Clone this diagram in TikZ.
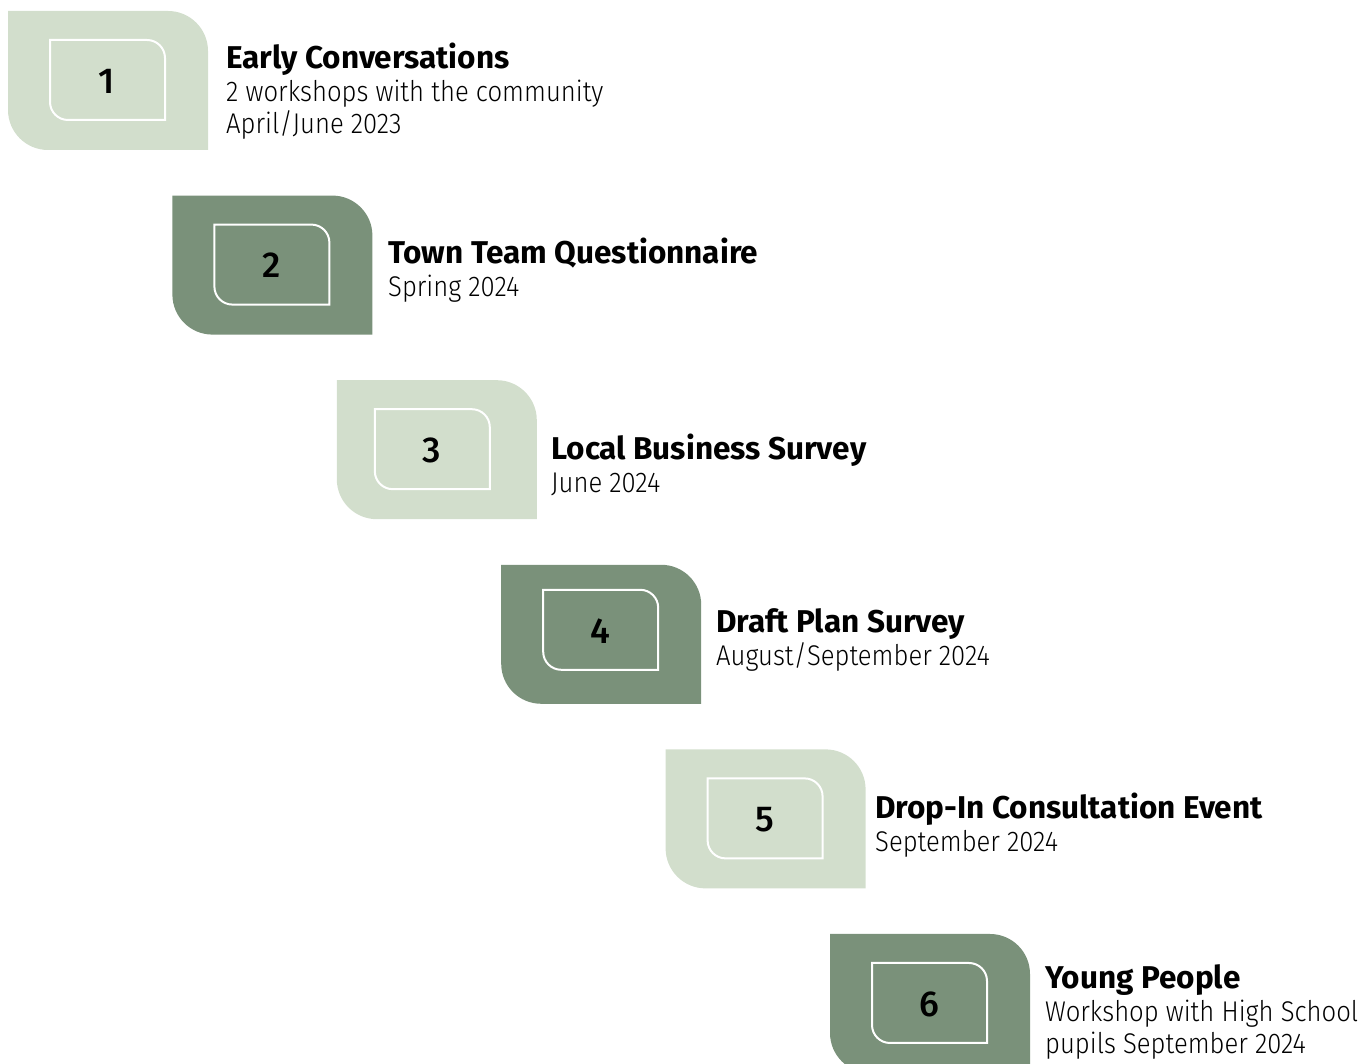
\documentclass[tikz,border=0pt]{standalone}
\usepackage{fontspec}
\setmainfont{Fira Sans}
\newfontfamily\lightfont{Fira Sans Light}[FakeStretch=0.9]
\newfontfamily\medfont{Fira Sans Medium}
\definecolor{lightg}{RGB}{210,222,204}
\definecolor{darkg}{RGB}{122,145,122}
\tikzset{
  titletext/.style={anchor=base west, inner sep=0pt, font=\fontsize{31.5}{31.5}\selectfont\bfseries, text=black},
  subtext/.style={anchor=base west, inner sep=0pt, font=\fontsize{28.5}{28.5}\selectfont\lightfont, text=black},
  numtext/.style={inner sep=0pt, font=\fontsize{36}{36}\selectfont\medfont, text=black},
}
\begin{document}
\begin{tikzpicture}[x=1pt,y=1pt]
\useasboundingbox (0,0) rectangle (1371,1064);
\clip (0,0) rectangle (1371,1064);
\foreach \i/\c/\dx/\dy in {0/lightg/0/0,1/darkg/0/0,2/lightg/-4/0,3/darkg/0/4,4/lightg/0/0,5/darkg/0/0}{
  \begin{scope}[shift={(8+164.4*\i,914-184.6*\i)}]
    \fill[\c] (0,40) -- (0,139) -- (160,139) arc[start angle=90,end angle=0,radius=40]
      -- (200,0) -- (40,0) arc[start angle=270,end angle=180,radius=40] -- cycle;
    \begin{scope}[shift={(\dx,\dy)}]
    \draw[white,line width=2] (42,48) -- (42,110) -- (139,110) arc[start angle=90,end angle=0,radius=18]
      -- (157,30) -- (60,30) arc[start angle=270,end angle=180,radius=18] -- cycle;
    \pgfmathtruncatemacro{\n}{\i+1}
    \node[numtext] (num\n) at (99,69) {\n};
    \end{scope}
  \end{scope}
}
% text, baselines in pixel rows measured from top
\node[titletext] (t1) at (226,1064-69) {Early Conversations};
\node[subtext] (s1a) at (226,1064-102) {2 workshops with the community};
\node[subtext] (s1b) at (226,1064-134) {April/June 2023};
\node[titletext] (t2) at (388,1064-264) {Town Team Questionnaire};
\node[subtext] (s2a) at (388,1064-297) {Spring 2024};
\node[titletext] (t3) at (551,1064-460) {Local Business Survey};
\node[subtext] (s3a) at (551,1064-493) {June 2024};
\node[titletext] (t4) at (716,1064-633) {Draft Plan Survey};
\node[subtext] (s4a) at (716,1064-666) {August/September 2024};
\node[titletext] (t5) at (875,1064-819) {Drop-In Consultation Event};
\node[subtext] (s5a) at (875,1064-852) {September 2024};
\node[titletext] (t6) at (1045,1064-989) {Young People};
\node[subtext] (s6a) at (1045,1064-1022) {Workshop with High School};
\node[subtext] (s6b) at (1045,1064-1054) {pupils September 2024};
\end{tikzpicture}
\end{document}
